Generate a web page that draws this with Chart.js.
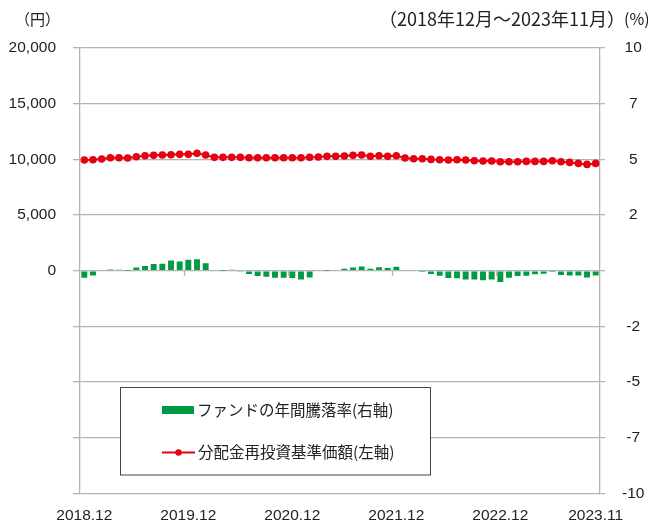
<!DOCTYPE html>
<html><head><meta charset="utf-8">
<script src="https://cdn.jsdelivr.net/npm/chart.js@4/dist/chart.umd.min.js"></script>
<style>html,body{margin:0;padding:0;background:#fff}#wrap{width:648px;height:525px;position:relative}</style>
</head><body><div id="wrap"><canvas id="c" width="648" height="525"></canvas></div>
<script>
const categories = [
'2018.12','2019.01','2019.02','2019.03','2019.04','2019.05','2019.06','2019.07','2019.08','2019.09','2019.10','2019.11',
'2019.12','2020.01','2020.02','2020.03','2020.04','2020.05','2020.06','2020.07','2020.08','2020.09','2020.10','2020.11',
'2020.12','2021.01','2021.02','2021.03','2021.04','2021.05','2021.06','2021.07','2021.08','2021.09','2021.10','2021.11',
'2021.12','2022.01','2022.02','2022.03','2022.04','2022.05','2022.06','2022.07','2022.08','2022.09','2022.10','2022.11',
'2022.12','2023.01','2023.02','2023.03','2023.04','2023.05','2023.06','2023.07','2023.08','2023.09','2023.10','2023.11'];
const changeRate = [
-0.31,-0.21,-0.03,0.06,0.04,0.01,0.15,0.21,0.30,0.31,0.46,0.42,
0.49,0.52,0.34,0.00,0.01,0.04,-0.04,-0.15,-0.24,-0.27,-0.31,-0.31,
-0.33,-0.39,-0.30,-0.03,0.01,0.03,0.09,0.15,0.19,0.09,0.16,0.12,
0.18,0.00,-0.03,-0.06,-0.15,-0.22,-0.33,-0.34,-0.39,-0.39,-0.43,-0.39,
-0.51,-0.31,-0.24,-0.22,-0.16,-0.13,-0.01,-0.19,-0.21,-0.21,-0.30,-0.21];
const navValues = [
9940,9970,10030,10150,10150,10120,10240,10330,10360,10390,10420,10450,
10450,10540,10390,10180,10180,10180,10180,10150,10150,10150,10150,10150,
10150,10150,10180,10210,10270,10270,10300,10360,10390,10270,10330,10270,
10330,10120,10060,10060,10000,9970,9940,9970,9940,9880,9850,9850,
9790,9790,9790,9820,9820,9820,9880,9790,9730,9640,9550,9640];
const xTickLabels = ['2018.12','2019.12','2020.12','2021.12','2022.12','2023.11'];
const yearBoundaries = ['2019.12','2020.12','2021.12','2022.12'];
const seriesNames = ['ファンドの年間騰落率(右軸)','分配金再投資基準価額(左軸)'];
const leftUnit = '（円）';
const rightUnit = '(%)';
const periodText = '（2018年12月～2023年11月）';

const GRID = '#b4b4b4';
const GREEN = '#009a44';
const RED = '#e60012';
const JPFONT = '"Liberation Sans Narrow","Noto Sans CJK JP",sans-serif';

const decor = {
  id: 'decor',
  afterDraw(chart) {
    const ctx = chart.ctx;
    const x = chart.scales.x, y1 = chart.scales.y1;
    ctx.save();
    const zeroY = y1.getPixelForValue(0);
    const half = (x.getPixelForValue(1) - x.getPixelForValue(0)) / 2;
    ctx.strokeStyle = GRID; ctx.lineWidth = 1.3;
    yearBoundaries.forEach(lbl => {
      const px = Math.round(x.getPixelForValue(categories.indexOf(lbl)) - half) + 0.5;
      ctx.beginPath(); ctx.moveTo(px, zeroY); ctx.lineTo(px, zeroY + 5); ctx.stroke();
    });
    ctx.fillStyle = '#222';
    ctx.textBaseline = 'middle';
    ctx.textAlign = 'left';
    ctx.font = '15px "Noto Sans CJK JP",sans-serif';
    ctx.fillText(leftUnit, 15, 19);
    ctx.font = '16px ' + JPFONT;
    ctx.fillText(rightUnit, 624, 19);
    ctx.font = '18px ' + JPFONT;
    ctx.textAlign = 'right';
    ctx.fillText(periodText, 625, 19);
    ctx.fillStyle = '#fff';
    ctx.fillRect(120.5, 387.5, 310, 87.5);
    ctx.strokeStyle = '#444'; ctx.lineWidth = 1;
    ctx.strokeRect(120.5, 387.5, 310, 87.5);
    ctx.fillStyle = GREEN;
    ctx.fillRect(162, 406, 32, 8);
    ctx.strokeStyle = RED; ctx.lineWidth = 2;
    ctx.beginPath(); ctx.moveTo(162, 452.5); ctx.lineTo(195, 452.5); ctx.stroke();
    ctx.fillStyle = RED;
    ctx.beginPath(); ctx.arc(178.5, 452.5, 3.2, 0, Math.PI * 2); ctx.fill();
    ctx.fillStyle = '#222';
    ctx.textAlign = 'left';
    ctx.font = '15.5px "Noto Sans CJK JP",sans-serif';
    ctx.fillText(seriesNames[0], 197, 410);
    ctx.fillText(seriesNames[1], 198, 452);
    ctx.restore();
  }
};

new Chart(document.getElementById('c'), {
  data: {
    labels: categories,
    datasets: [
      { type: 'line', label: seriesNames[1], data: navValues, yAxisID: 'y', order: 0,
        borderColor: RED, backgroundColor: RED, borderWidth: 2, pointRadius: 3.8,
        pointBackgroundColor: RED, pointBorderColor: RED, pointBorderWidth: 0, tension: 0 },
      { type: 'bar', label: seriesNames[0], data: changeRate, yAxisID: 'y1', order: 1,
        backgroundColor: GREEN, borderWidth: 0, categoryPercentage: 1.0, barPercentage: 0.68 }
    ]
  },
  options: {
    responsive: false, animation: false, devicePixelRatio: 1,
    layout: { padding: { top: 48, left: 0, right: 0, bottom: 0 } },
    plugins: { legend: { display: false }, tooltip: { enabled: false } },
    scales: {
      x: {
        type: 'category', offset: true,
        grid: { display: false, drawTicks: false },
        border: { display: false },
        ticks: {
          autoSkip: false, maxRotation: 0, minRotation: 0, padding: 13,
          color: '#222', font: { family: '"Liberation Sans", Arial, sans-serif', size: 15.5 },
          callback: (v, i) => xTickLabels.includes(categories[i]) ? categories[i] : ''
        },
        afterFit: s => { s.height = 31.5; }
      },
      y: {
        position: 'left', min: -20000, max: 20000,
        ticks: { stepSize: 5000, padding: 17, color: '#222',
          font: { family: '"Liberation Sans", Arial, sans-serif', size: 15.5 },
          callback: v => v >= 0 ? v.toLocaleString('en-US') : '' },
        grid: { color: GRID, lineWidth: 1.3, tickLength: 7 },
        border: { display: true, color: GRID, width: 1.3 },
        afterFit: s => { s.width = 80; }
      },
      y1: {
        position: 'right', min: -10, max: 10,
        ticks: { stepSize: 2.5, padding: 17, color: '#222', crossAlign: 'center',
          font: { family: '"Liberation Sans", Arial, sans-serif', size: 15.5 },
          callback: v => v === 0 ? '' : String(Math.trunc(v)) },
        grid: { drawOnChartArea: false, color: GRID, lineWidth: 1.3, tickLength: 5 },
        border: { display: true, color: GRID, width: 1.3 },
        afterFit: s => { s.width = 48; }
      }
    }
  },
  plugins: [decor]
});
</script></body></html>
